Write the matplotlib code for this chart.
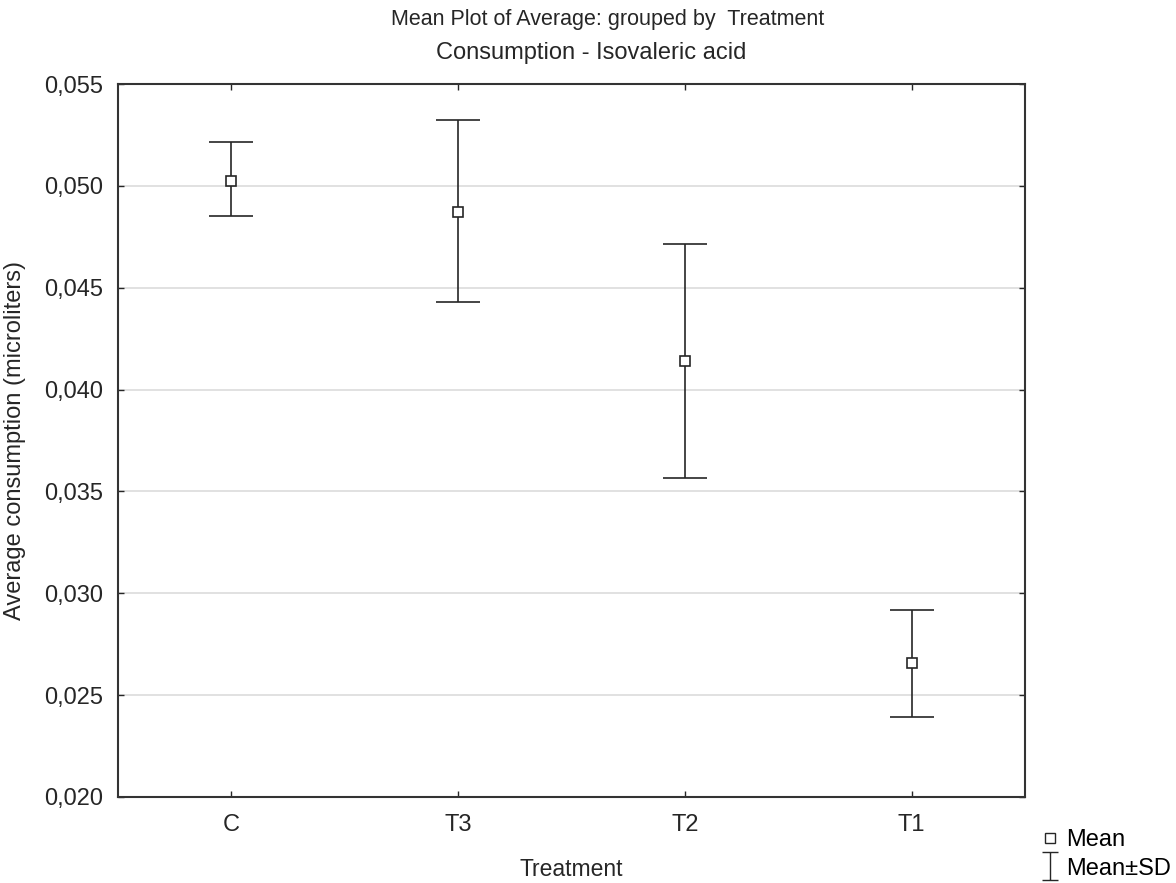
import matplotlib
matplotlib.use("Agg")
from matplotlib import pyplot as plt
from matplotlib.path import Path
from matplotlib.lines import Line2D
from matplotlib.ticker import FuncFormatter

plt.rcParams['font.family'] = ['Liberation Sans', 'DejaVu Sans']

groups = ['C', 'T3', 'T2', 'T1']
means = [0.05024, 0.04873, 0.04142, 0.02657]
upper = [0.05216, 0.05324, 0.04716, 0.02917]
lower = [0.04853, 0.04431, 0.03564, 0.02392]

err_lo = [m - l for m, l in zip(means, lower)]
err_hi = [u - m for m, u in zip(means, upper)]
x = list(range(len(groups)))

fig = plt.figure(figsize=(11.76, 8.83), dpi=100)
ax = fig.add_axes([118/1176, 1 - 797/883, (1025-118)/1176, (797-84)/883])

ax.errorbar(x, means, yerr=[err_lo, err_hi], fmt='none', ecolor='#262626',
            elinewidth=1.2, capsize=16, capthick=1.2, zorder=3)
ax.plot(x, means, 's', ms=7.5, mfc='white', mec='#262626', mew=1.2, zorder=4)

ax.set_xlim(-0.5, 3.5)
ax.set_ylim(0.020, 0.055)
ax.set_xticks(x)
ax.set_xticklabels(groups)
ax.set_yticks([0.020, 0.025, 0.030, 0.035, 0.040, 0.045, 0.050, 0.055])
ax.yaxis.set_major_formatter(FuncFormatter(lambda v, p: f"{v:.3f}".replace('.', ',')))
ax.yaxis.grid(True, color='#d9d9d9', lw=1.1)
ax.set_axisbelow(True)
ax.tick_params(direction='in', length=4, width=1, labelsize=17, colors='#262626',
               top=True, right=True)
ax.tick_params(axis='y', pad=10.5)
ax.tick_params(axis='x', pad=12)
for s in ax.spines.values():
    s.set_linewidth(1.5)
    s.set_color('#333333')

ax.set_xlabel("Treatment", fontsize=16.5, labelpad=16, color='#262626')
ax.set_ylabel("Average consumption (microliters)", fontsize=17, labelpad=13, color='#262626')

fig.text(0.517, 1 - 19/883, "Mean Plot of Average: grouped by  Treatment",
         ha='center', va='center', fontsize=15.5, color='#262626')
fig.text(0.503, 1 - 53/883, "Consumption - Isovaleric acid",
         ha='center', va='center', fontsize=17, color='#262626')

sd_path = Path([(-0.55, 1), (0.55, 1), (0, 1), (0, -1), (-0.55, -1), (0.55, -1)],
               [Path.MOVETO, Path.LINETO, Path.MOVETO, Path.LINETO, Path.MOVETO, Path.LINETO])
handles = [
    Line2D([], [], ls='none', marker='s', ms=6.5, mfc='white', mec='#262626', mew=1),
    Line2D([], [], ls='none', marker=sd_path, ms=20, mec='#262626', mew=1),
]
fig.legend(handles, ['Mean', 'Mean±SD'], loc='lower right', bbox_to_anchor=(1.01, -0.015),
           frameon=False, fontsize=17, handlelength=0.8, handletextpad=0.3,
           labelspacing=0.28, borderaxespad=0.3)

fig.savefig("out.png", dpi=100)
